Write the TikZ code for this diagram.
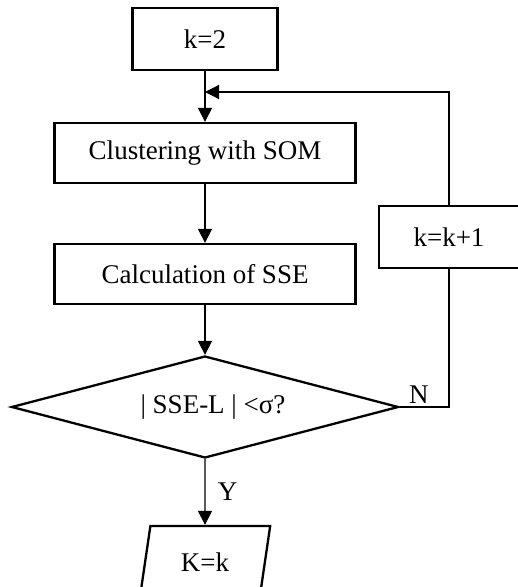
\documentclass[tikz,border=0pt]{standalone}
\usepackage{fontspec}
\setmainfont{Liberation Serif}
\usetikzlibrary{arrows.meta,shapes.geometric,calc}

\tikzset{
  box/.style={draw, rectangle, line width=2.3pt, inner sep=0pt},
  link/.style={line width=1.2pt, -{Triangle[length=14pt,width=14pt]}},
  wire/.style={line width=1.2pt}
}

\begin{document}
\begin{tikzpicture}[x=1pt,y=-1pt,font=\fontsize{27}{32}\selectfont]
        \useasboundingbox (0,0) rectangle (518,587);
        \clip (0,0) rectangle (518,587);
        % main column
        \node[box, minimum width=145pt, minimum height=62pt] (start) at (205,39) {k=2};
        \node[box, minimum width=301pt, minimum height=60pt] (cluster) at (205,153) {Clustering with SOM};
        \node[box, minimum width=301pt, minimum height=60pt] (sse) at (205,274) {Calculation of SSE};
        \node[draw, diamond, aspect=3.8, line width=2.3pt, inner sep=0pt, minimum width=387pt, minimum height=102pt] (check) at (205,407) {\hspace{16pt}| SSE-L | <σ?};
        \node[draw, trapezium, trapezium left angle=76, trapezium right angle=104, trapezium stretches=true,
              line width=2.3pt, inner sep=0pt, minimum width=131pt, minimum height=72pt] (out) at (205,562) {K=k};
        % loop back
        \node[box, minimum width=140pt, minimum height=62pt] (incr) at (449,237) {k=k+1};
        \coordinate (turn) at (449,407);
        \coordinate (join) at (205,92);
        \draw[link] (start.south) -- (cluster.north);
        \draw[link] (cluster.south) -- (sse.north);
        \draw[link] (sse.south) -- (check.north);
        \draw[link] (check.south) -- node[right=9pt] {Y} (out.north);
        \draw[wire] (check.east) -- node[above, pos=0.39] {N} (turn) -- (incr.south);
        \draw[link] (incr.north) |- (join);
      \end{tikzpicture}
\end{document}
